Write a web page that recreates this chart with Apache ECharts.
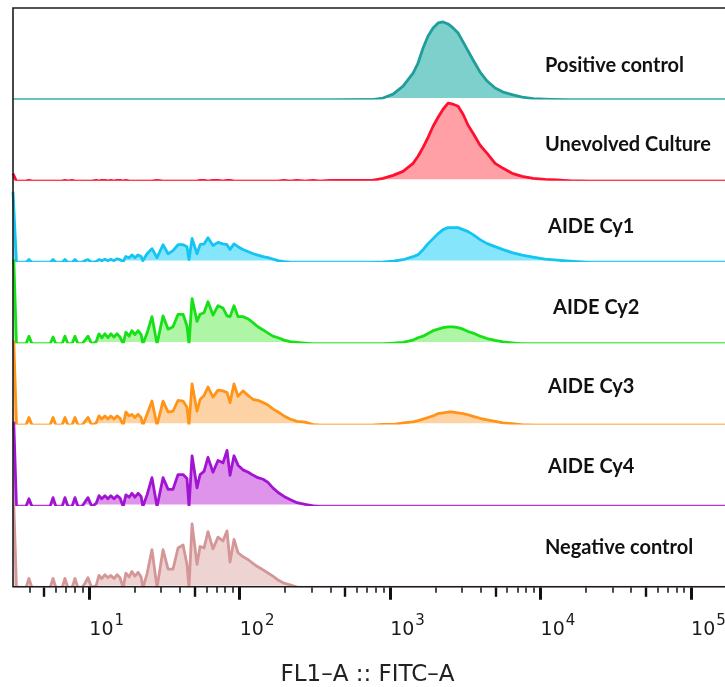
<!DOCTYPE html>
<html>
<head>
<meta charset="utf-8">
<script src="https://cdn.jsdelivr.net/npm/echarts@6/dist/echarts.min.js"></script>
<style>
  html, body { margin: 0; padding: 0; background: #ffffff; }
  #chart { width: 725px; height: 687px; }
</style>
</head>
<body>
<div id="chart"></div>
<script>
// FL1-A (FITC) histogram bins, in fluorescence units (log-spaced channels)
const fitcBins = [
  3.11, 3.18, 3.28, 3.79, 3.97, 4.16, 5.48, 5.74, 6.00, 6.59,
  6.89, 7.22, 7.67, 8.03, 8.41, 8.94, 9.36, 9.80, 10.4, 11.1,
  11.6, 12.1, 12.7, 13.3, 13.9, 14.6, 15.3, 16.0, 16.8, 17.5,
  18.4, 19.2, 20.1, 21.1, 22.1, 22.7, 24.2, 26.1, 28.2, 30.9,
  33.4, 36.0, 38.9, 42.0, 44.6, 46.0, 48.2, 52.0, 54.5, 57.9,
  61.5, 66.4, 71.7, 77.4, 82.3, 86.2, 91.6, 97.4, 105, 114,
  123, 132, 143, 154, 166, 180, 197, 216, 240, 272,
  307, 342, 398, 631, 759, 897, 1046, 1218, 1420, 1532,
  1655, 1786, 1929, 2083, 2248, 2427, 2619, 2828, 3052, 3296,
  3558, 3960, 4410, 4985, 5633, 6464, 7534, 8915, 10710, 12875,
  15710, 21340, 156100, 262144
];

// Event counts per bin, normalised to mode (% of max)
const positiveControl = [
  0, 0, 0, 0, 0, 0, 0, 0, 0, 0,
  0, 0, 0, 0, 0, 0, 0, 0, 0, 0,
  0, 0, 0, 0, 0, 0, 0, 0, 0, 0,
  0, 0, 0, 0, 0, 0, 0, 0, 0, 0,
  0, 0, 0, 0, 0, 0, 0, 0, 0, 0,
  0, 0, 0, 0, 0, 0, 0, 0, 0, 0,
  0, 0, 0, 0, 0, 0, 0, 0, 0, 0,
  0, 0, 0, 0.6, 0.6, 2.6, 7.7, 17.9, 34.6, 47.4,
  66.7, 82.1, 92.3, 98.7, 100, 97.4, 92.3, 85.9, 74.4, 62.8,
  51.3, 35.9, 24.4, 15.4, 10.3, 7, 3.8, 1.9, 1.3, 0.6,
  0, 0, 0, 0
];

const unevolvedCulture = [
  10, 10, 0, 0, 1.3, 0, 0, 0, 0, 0,
  1.3, 0, 1.3, 0, 0, 0, 0, 0, 0, 1.3,
  0, 1.3, 1.3, 0, 1.3, 0, 1.3, 1.3, 0, 1.3,
  0, 0, 0, 0, 0, 0, 0, 0, 1.3, 0,
  0, 0, 0, 0, 0, 0, 0, 0, 1.3, 1.3,
  0, 1.3, 1.3, 0, 1.3, 1.3, 0, 0, 0, 0,
  0, 0, 0, 0, 0, 0, 1.3, 0, 1.3, 0,
  1.3, 0, 1.3, 1.3, 1.3, 3.8, 7.7, 12.8, 23.1, 32.1,
  43.6, 56.4, 70.5, 82.1, 92.3, 100, 98.7, 96.2, 85.9, 71.8,
  61.5, 46.2, 35.9, 23.1, 16.7, 10.3, 6.4, 3.8, 2.6, 1.9,
  0.6, 0, 0, 0
];

const aideCy1 = [
  91, 91, 0, 0, 4, 0, 0, 4, 0, 0,
  4, 0, 0, 4, 0, 0, 2.6, 4, 0, 1.3,
  4, 2.6, 4.5, 2.6, 4.5, 2.6, 5, 4, 1.3, 8,
  6.4, 10, 6.4, 10, 8, 2.6, 11.5, 18, 6.4, 23,
  11.5, 15.4, 23, 23, 20.5, 4, 31, 11.5, 23, 24,
  32, 22, 26, 24, 23, 17, 24, 20.5, 17, 14,
  11.5, 9.6, 7.7, 6.4, 4.5, 2.6, 1.3, 0.4, 0, 0,
  0, 0, 0, 0, 0, 0.6, 1.9, 3.8, 7.7, 10.3,
  16.7, 24.4, 30.8, 37.2, 42.3, 44.9, 44.9, 44.9, 42.3, 39.7,
  35.9, 29.5, 24.4, 20.5, 16.7, 12.8, 9.6, 7, 4.5, 3.2,
  1.9, 0, 0, 0
];

const aideCy2 = [
  140, 140, 0, 0, 10, 0, 0, 9, 0, 0,
  10, 0, 0, 10, 0, 0, 5, 10, 0, 3,
  13, 8, 13, 8, 13, 9, 13, 9, 0, 15,
  10, 17, 12, 17, 12, 0, 14, 35, 0, 36,
  19, 22, 38, 38, 23, 0, 58, 29, 38, 40,
  54, 37, 49, 46, 36, 35, 49, 35, 35, 32,
  27, 22, 18, 14, 10, 8, 5, 3, 2, 1,
  0, 0, 0, 0, 0, 0, 1, 2, 5, 8,
  10, 13.5, 17, 19, 21, 22, 22, 21, 19, 16,
  14, 10, 7, 4.5, 2.6, 1.3, 0, 0, 0, 0,
  0, 0, 0, 0
];

const aideCy3 = [
  140, 140, 0, 0, 10, 0, 0, 10, 0, 0,
  10, 0, 0, 10, 0, 0, 5, 10, 0, 3,
  12, 8, 12, 8, 12, 8, 12, 9, 0, 17,
  12, 14, 10, 14, 10, 0, 14, 31, 0, 31,
  17, 18, 32, 31, 23, 0, 53, 18, 33, 38,
  49, 36, 45, 44, 42, 29, 53, 37, 44, 38,
  33, 32, 29, 26, 21, 17, 12, 8, 5, 4,
  1, 0, 0, 0, 0, 1, 1, 3, 4.5, 6,
  8, 10, 12, 15, 16, 17, 17, 16, 15, 13.5,
  11.5, 9, 7, 5, 3, 2, 0.6, 0, 0, 0,
  0, 0, 0, 0
];

const aideCy4 = [
  140, 140, 0, 0, 10, 0, 0, 11.5, 0, 0,
  11.5, 0, 0, 11.5, 0, 0, 6, 11.5, 0, 4,
  14, 10, 14, 10, 14, 10, 14, 11, 0, 15,
  12, 17, 12, 17, 13, 0, 15, 37, 0, 37,
  22, 22, 41, 41, 36, 0, 65, 24, 41, 45,
  63, 44, 59, 56, 72, 40, 65, 53, 47, 44,
  40, 37, 35, 31, 24, 18, 13, 9, 5, 3,
  1, 0, 0, 0, 0, 0, 0, 0, 0, 0,
  0, 0, 0, 0, 0, 0, 0, 0, 0, 0,
  0, 0, 0, 0, 0, 0, 0, 0, 0, 0,
  0, 0, 0, 0
];

const negativeControl = [
  140, 140, 0, 0, 12, 0, 0, 12, 0, 0,
  12, 0, 0, 12, 0, 0, 6, 13, 0, 3,
  16, 12, 17, 13, 16, 12, 17, 13, 0, 19,
  14, 21, 15, 20, 14, 0, 18, 49, 0, 49,
  24, 24, 51, 55, 30, 0, 82, 30, 53, 51,
  72, 50, 65, 60, 73, 33, 62, 45, 40, 36,
  31, 27, 23, 19, 15, 10, 6, 4, 1, 0,
  0, 0, 0, 0, 0, 0, 0, 0, 0, 0,
  0, 0, 0, 0, 0, 0, 0, 0, 0, 0,
  0, 0, 0, 0, 0, 0, 0, 0, 0, 0,
  0, 0, 0, 0
];

const sampleNames = ['Positive control', 'Unevolved Culture', 'AIDE Cy1', 'AIDE Cy2', 'AIDE Cy3', 'AIDE Cy4', 'Negative control'];
const sampleValues = [positiveControl, unevolvedCulture, aideCy1, aideCy2, aideCy3, aideCy4, negativeControl];
const lineColors = ['#1f9e9a', '#ff1030', '#14c4f2', '#16e016', '#ff9418', '#a114d2', '#d49696'];
const fillColors = ['#7dd0cc', '#ffa0a7', '#84e5fb', '#aef5a6', '#fdd2a4', '#de94eb', '#eed3d3'];

// Axis range and tick positions (FITC units)
const fitcMin = 3.11;
const fitcMax = 262144;
const majorTicks = [10, 100, 1000, 10000, 100000];
const midTicks = [5, 50, 500, 5000, 50000];
const minorTicks = [4, 6, 7, 8, 9, 20, 30, 40, 60, 70, 80, 90,
  200, 300, 400, 600, 700, 800, 900, 2000, 3000, 4000, 6000, 7000, 8000, 9000,
  20000, 30000, 40000, 60000, 70000, 80000, 90000, 200000];
const axisTitle = 'FL1\u2013A :: FITC\u2013A';

// Layout
const plotLeft = 13;
const plotWidth = 741;
const panelH = 81.3;
const firstBase = 99;
const frameTop = 8;
const lineWidth = 2.8;
// The zero level sits just under each panel's bottom edge, so the series clip
// leaves only a thin sliver of the outline along empty channels.
const baselineDrop = 2.1;            // px below the panel edge
const panelScale = 104 / panelH;     // % units per px
const yMin = baselineDrop * panelScale;
const yMax = 104 + yMin;
const labelPos = [[545, 65.3], [545, 145], [548, 226.3], [553, 307.3], [548, 386.3], [548, 467], [545, 547.3]];

const n = sampleNames.length;
const grids = [];
const xAxes = [];
const yAxes = [];
const series = [];

for (let i = 0; i < n; i++) {
  grids.push({
    left: plotLeft, width: plotWidth,
    top: firstBase - panelH + i * panelH - 1, height: panelH,
    outerBoundsMode: 'none', containLabel: false
  });
  yAxes.push({ type: 'value', gridIndex: i, min: yMin, max: yMax, show: false });
  xAxes.push({
    type: 'log', gridIndex: i, min: fitcMin, max: fitcMax, position: 'bottom',
    show: false
  });
  series.push({
    name: sampleNames[i],
    type: 'line',
    xAxisIndex: i, yAxisIndex: i,
    data: fitcBins.map((v, k) => [v, sampleValues[i][k]]),
    symbol: 'none', showSymbol: false, smooth: false, clip: true, silent: true,
    lineStyle: { color: lineColors[i], width: lineWidth, join: 'round' },
    areaStyle: { color: fillColors[i], opacity: 1, origin: 'start' }
  });
}

// Outer frame, which also carries the FITC axis ticks and labels
const frameIndex = n;
const frameBottom = firstBase + (n - 1) * panelH;
grids.push({
  left: plotLeft, width: plotWidth, top: frameTop,
  height: frameBottom - frameTop,
  show: true, borderColor: '#1c1c1c', borderWidth: 1.6, backgroundColor: 'rgba(0,0,0,0)',
  z: 5, outerBoundsMode: 'none', containLabel: false
});
yAxes.push({ type: 'value', gridIndex: frameIndex, min: 0, max: 1, show: false });
xAxes.push({
  type: 'log', gridIndex: frameIndex, min: fitcMin, max: fitcMax, position: 'bottom',
  axisLine: { show: false },
  splitLine: { show: false },
  minorTick: { show: false },
  axisTick: { show: true, customValues: majorTicks, length: 13, lineStyle: { color: '#111', width: 3 } },
  axisLabel: {
    show: true, customValues: majorTicks, align: 'left', margin: 27,
    formatter: v => '{b|10}{s|' + Math.round(Math.log10(v)) + '}',
    rich: {
      b: { fontFamily: 'DejaVu Sans', fontSize: 19, color: '#1a1a1a', verticalAlign: 'bottom' },
      s: { fontFamily: 'DejaVu Sans', fontSize: 15, color: '#1a1a1a', verticalAlign: 'bottom', padding: [0, 0, 11, 1] }
    }
  }
});
xAxes.push({
  type: 'log', gridIndex: frameIndex, min: fitcMin, max: fitcMax, position: 'bottom',
  axisLine: { show: false }, splitLine: { show: false }, axisLabel: { show: false },
  axisTick: { show: true, customValues: midTicks, length: 10, lineStyle: { color: '#111', width: 2.4 } }
});
xAxes.push({
  type: 'log', gridIndex: frameIndex, min: fitcMin, max: fitcMax, position: 'bottom',
  axisLine: { show: false }, splitLine: { show: false }, axisLabel: { show: false },
  axisTick: { show: true, customValues: minorTicks, length: 6, lineStyle: { color: '#111', width: 1.5 } }
});

const graphic = sampleNames.map((name, i) => ({
  type: 'text', x: labelPos[i][0], y: labelPos[i][1], z: 10,
  style: {
    text: name, font: 'bold 20px Lato', fill: '#111111',
    align: 'left', verticalAlign: 'middle', textAlign: 'left', textVerticalAlign: 'middle'
  }
}));
graphic.push({
  type: 'text', x: 367.5, y: 675, z: 10,
  style: {
    text: axisTitle, font: '23px "DejaVu Sans"', fill: '#222222',
    align: 'center', verticalAlign: 'middle', textAlign: 'center', textVerticalAlign: 'middle'
  }
});

const chart = echarts.init(document.getElementById('chart'), null, { renderer: 'canvas' });
chart.setOption({
  animation: false,
  backgroundColor: '#ffffff',
  grid: grids,
  xAxis: xAxes,
  yAxis: yAxes,
  series: series,
  graphic: graphic
});
</script>
</body>
</html>
